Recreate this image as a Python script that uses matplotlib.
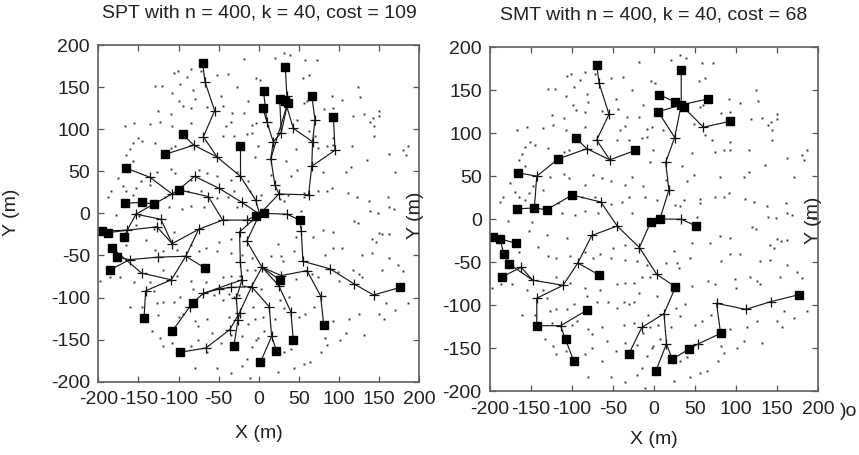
import matplotlib
matplotlib.use("Agg")
import matplotlib.pyplot as plt

plt.rcParams['font.family'] = ['Liberation Sans', 'DejaVu Sans']
plt.rcParams['axes.unicode_minus'] = False

# ---------------- data ----------------
titles = ["SPT with n = 400, k = 40, cost = 109",
          "SMT with n = 400, k = 40, cost = 68"]
ticks = [-200, -150, -100, -50, 0, 50, 100, 150, 200]
tick_labels = ["-200", "-150", "-100", "-50", "0", "50", "100", "150", "200"]

# background sensor nodes (x, y) in metres
sensors_a = [(-101,169),(-106,167),(-84,171),(-72,169),(-90,162),(-52,164),(-38,166),(-19,183),(-4,161),
             (-129,151),(-121,151),(-108,143),(-98,154),(-82,146),(-80,136),(-47,140),(-27,150),(-13,133),
             (-125,121),(-110,118),(-99,133),(-95,127),(-84,125),(-64,126),(-44,128),(-33,119),(-19,119),
             (-9,105),(-167,104),(-155,107),(-135,106),(-123,109),(-108,104),(-84,107),(-41,104),(-35,108),
             (-9,96),(-151,90),(-157,84),(-161,76),(-145,86),(-129,83),(-110,78),(-104,80),(-45,92),(-31,92),
             (-15,94),(-5,67),(-165,69),(-157,62),(-176,42),(-169,32),(-165,26),(-153,30),(-147,38),(-135,34),
             (-127,49),(-110,53),(-104,48),(-84,40),(-74,51),(-64,48),(-52,44),(-35,40),(-27,49),(-13,38),
             (-188,20),(-184,26),(-157,22),(-117,19),(-88,26),(-72,26),(-52,18),(-39,20),(-31,26),(-11,26),
             (-112,7),(-96,5),(-84,9),(-68,7),(-27,7)]
sensors_b = [(32,191),(39,188),(58,182),(72,182),(20,185),(55,161),(62,164),(91,140),(104,135),(124,150),
             (126,138),(81,124),(92,125),(56,131),(60,133),(118,116),(131,118),(142,113),(150,122),(150,116),
             (139,109),(144,104),(143,92),(116,80),(93,90),(93,81),(85,80),(74,78),(70,92),(62,98),(46,77),
             (34,62),(48,51),(80,49),(109,49),(115,55),(135,63),(162,71),(180,75),(183,69),(40,44),(56,24),
             (56,19),(74,26),(85,26),(91,30),(111,24),(122,20),(137,15),(161,19),(162,7),(168,5),(148,1),
             (139,3),(26,17),(32,15),(36,22),(15,46),(3,22),(170,49),(52,3),(186,80),(-1,80),(-3,107),(1,158),
             (11,104),(48,111)]
sensors_c = [(-178,-2),(-149,-3),(-131,-18),(-106,-22),(-153,-14),(-165,-38),(-141,-32),(-129,-43),(-119,-45),
             (-102,-43),(-84,-38),(-74,-45),(-66,-41),(-50,-34),(-35,-30),(-52,-45),(-35,-47),(-21,-49),(-9,-53),
             (-186,-76),(-173,-76),(-155,-82),(-135,-82),(-119,-67),(-131,-92),(-102,-74),(-84,-80),(-82,-90),
             (-66,-82),(-45,-76),(-35,-74),(-24,-74),(-15,-67),(-5,-67),(-19,-86),(-25,-97),(-31,-99),(-37,-96),
             (-45,-103),(-56,-97),(-70,-96),(-106,-105),(-119,-105),(-98,-99),(-127,-107),(-145,-111),(-161,-111),
             (-125,-121),(-100,-123),(-94,-119),(-80,-128),(-76,-134),(-64,-126),(-58,-142),(-37,-123),(-25,-121),
             (-7,-111),(-5,-126),(-13,-132),(-133,-140),(-123,-148),(-119,-157),(-108,-154),(-84,-157),(-76,-150),
             (-64,-165),(-47,-154),(-35,-144),(-21,-146),(-9,-159),(-3,-150),(-80,-184),(-52,-184),(-35,-190),
             (-21,-181),(-15,-173),(-11,-196),(-198,-80)]
sensors_d = [(119,-9),(124,-12),(92,-22),(80,-20),(68,-28),(46,-28),(24,-37),(44,-45),(82,-49),(93,-41),
             (104,-41),(141,-30),(150,-23),(154,-25),(162,-24),(146,-34),(141,-47),(162,-53),(174,-61),(180,-68),
             (117,-67),(125,-72),(129,-76),(153,-67),(129,-49),(100,-80),(99,-70),(74,-76),(66,-72),(46,-78),
             (38,-99),(27,-103),(3,-90),(15,-51),(30,-57),(5,-123),(7,-140),(32,-113),(50,-123),(58,-119),
             (69,-111),(93,-128),(113,-126),(125,-119),(131,-144),(150,-119),(156,-126),(170,-115),(186,-107),
             (82,-148),(85,-156),(78,-165),(64,-177),(56,-179),(40,-161),(44,-184),(24,-188),(32,-165),
             (101,-150),(109,-142),(158,-107),(28,-51),(-1,-148),(20,-126)]

# multicast receivers (squares)
receivers = [(-70,179),(33,174),(6,145),(26,136),(33,133),(36,131),(66,140),(5,125),(93,114),
             (-95,94),(-23,80),(-117,70),(-166,54),(-167,12),(-146,13),(-131,11),(-100,28),
             (-4,-3),(7,0),(51,-8),(-196,-21),(-188,-23),(-168,-28),(-183,-41),(-177,-52),(-185,-67),
             (-67,-65),(26,-79),(176,-88),(-82,-106),(81,-133),(-143,-124),(-108,-140),(-98,-165),
             (-31,-157),(22,-163),(43,-151),(2,-177)]
source = (1, -1)

# shortest path tree branches (vertex sequences)
spt_paths = [
    [(-70,179),(-67,156),(-55,122),(-69,91),(-52,67),(-23,44),(-4,16),(1,-1)],
    [(-23,80),(-23,44)],
    [(-95,94),(-81,81),(-52,67)],
    [(-117,70),(-81,81)],
    [(-166,54),(-136,43),(-108,23),(-100,28),(-80,44),(-50,30),(-21,13),(1,-1)],
    [(-167,12),(-146,13),(-131,11),(-108,23)],
    [(-100,28),(-63,20),(-45,-8),(-15,-8),(1,-1)],
    [(-196,-21),(-164,-20),(-127,-16),(-108,-36),(-75,-19),(-45,-8)],
    [(-188,-23),(-164,-20)],
    [(-168,-28),(-164,-20),(-153,-1),(-131,11)],
    [(-153,-1),(-122,-7),(-108,-36)],
    [(-183,-41),(-146,-71),(-109,-79),(-91,-51),(-75,-19)],
    [(-177,-52),(-161,-55),(-125,-52),(-91,-51)],
    [(-185,-67),(-161,-55)],
    [(-91,-51),(-67,-65)],
    [(-109,-79),(-141,-92),(-143,-124)],
    [(-108,-140),(-86,-111),(-82,-106),(-69,-95),(-50,-90),(-35,-88),(-9,-87)],
    [(-69,-95),(-21,-79),(-23,-58),(-24,-22),(1,-1)],
    [(-98,-165),(-66,-160),(-36,-138),(-24,-118),(-9,-87),(4,-64),(-15,-33),(1,-1)],
    [(-31,-157),(-26,-127),(-28,-101),(-21,-79)],
    [(2,-177),(16,-146),(13,-111),(-9,-87)],
    [(22,-163),(16,-146)],
    [(43,-151),(40,-117),(25,-86),(4,-64)],
    [(81,-133),(77,-98),(60,-68),(28,-74),(4,-64)],
    [(26,-79),(4,-64)],
    [(176,-88),(143,-97),(119,-84),(89,-66),(55,-57),(53,-21),(51,-8),(35,-1),(7,0)],
    [(33,174),(35,139),(33,133),(43,101),(67,85)],
    [(66,140),(70,111),(67,85),(66,56),(62,22),(25,23)],
    [(93,114),(95,75),(66,56)],
    [(6,145),(10,109),(18,85),(15,65),(20,34),(25,23),(1,-1)],
    [(5,125),(10,109)],
    [(26,136),(28,96),(18,85)],
    [(36,131),(28,96)],
    [(36,131),(15,65)],
]

# Steiner minimum tree branches
smt_paths = [
    [(-70,179),(-67,158),(-55,122),(-70,92),(-54,69),(-23,80)],
    [(-54,69),(-82,82),(-95,94)],
    [(-82,82),(-117,70),(-143,50),(-166,54)],
    [(-143,50),(-146,13),(-167,12)],
    [(-146,13),(-131,11),(-100,28),(-65,20),(-45,-8),(-76,-19),(-93,-51),(-67,-65)],
    [(-93,-51),(-111,-77),(-148,-71),(-177,-52),(-183,-41),(-188,-23),(-196,-21)],
    [(-188,-23),(-168,-28)],
    [(-148,-71),(-162,-56),(-185,-67)],
    [(-111,-77),(-143,-92),(-143,-124),(-114,-124),(-82,-106)],
    [(-114,-124),(-108,-140),(-98,-165)],
    [(-45,-8),(-18,-33),(-4,-3),(7,0),(33,0),(51,-8)],
    [(-18,-33),(3,-64),(26,-79),(12,-110),(-15,-126),(-31,-157)],
    [(12,-110),(15,-145),(2,-177)],
    [(15,-145),(22,-163),(43,-151),(54,-145),(81,-133),(76,-98),(112,-105),(142,-96),(176,-88)],
    [(7,0),(18,34),(14,66),(25,95),(33,133),(33,174)],
    [(25,95),(5,125),(33,133)],
    [(6,145),(33,133),(66,140)],
    [(33,133),(60,107),(93,114)],
]

# ---------------- drawing ----------------
W, H = 859, 455
fig = plt.figure(figsize=(W/100, H/100), dpi=100)
ax_l = fig.add_axes([98.3/W, 1-381.7/H, 321/W, 336.7/H])
ax_r = fig.add_axes([490/W, 1-391/H, 328.3/W, 343.7/H])

sensors = sensors_a + sensors_b + sensors_c + sensors_d
rset = set(receivers)
txt = '#222222'
FS = 14

for ax, paths in [(ax_l, spt_paths), (ax_r, smt_paths)]:
    ax.plot([p[0] for p in sensors], [p[1] for p in sensors], linestyle='none',
            marker='s', markersize=1.4, color='#3a3a3a', markeredgewidth=0)
    relays = []
    for path in paths:
        ax.plot([p[0] for p in path], [p[1] for p in path], color='#1a1a1a', lw=0.85)
        for p in path:
            if p not in rset and p != source and p not in relays:
                relays.append(p)
    ax.plot([p[0] for p in relays], [p[1] for p in relays], linestyle='none',
            marker='+', markersize=6.5, markeredgewidth=0.9, color='#111111')
    ax.plot([p[0] for p in receivers], [p[1] for p in receivers], linestyle='none',
            marker='s', markersize=5.8, color='black')
    ax.set_xlim(-200, 200)
    ax.set_ylim(-200, 200)
    ax.set_xticks(ticks)
    ax.set_xticklabels(tick_labels)
    ax.set_yticks(ticks)
    ax.set_yticklabels(tick_labels)
    ax.tick_params(direction='in', length=4, width=0.9, color='#555555',
                   top=True, right=True, labelsize=FS, labelcolor=txt)
    ax.tick_params(axis='x', pad=7)
    ax.tick_params(axis='y', pad=6)
    for s in ax.spines.values():
        s.set_color('#606060')
        s.set_linewidth(1.2)

# titles and axis labels
fig.text(259/W, 1-13/H, titles[0], ha='center', va='center', fontsize=FS, color=txt)
fig.text(654/W, 1-15/H, titles[1], ha='center', va='center', fontsize=FS, color=txt)
fig.text(259/W, 1-433/H, "X (m)", ha='center', va='center', fontsize=FS, color=txt)
fig.text(654/W, 1-440/H, "X (m)", ha='center', va='center', fontsize=FS, color=txt)
fig.text(12/W, 1-212/H, "Y (m)", rotation=90, ha='center', va='center', fontsize=FS, color=txt)
fig.text(416/W, 1-215/H, "Y (m)", rotation=90, ha='center', va='center', fontsize=FS, color=txt)
fig.text(813/W, 1-220/H, "Y (m)", rotation=90, ha='center', va='center', fontsize=FS, color=txt)
fig.text(849/W, 1-411/H, ")o", ha='center', va='center', fontsize=FS, color=txt)

fig.savefig("out.png", dpi=100)
